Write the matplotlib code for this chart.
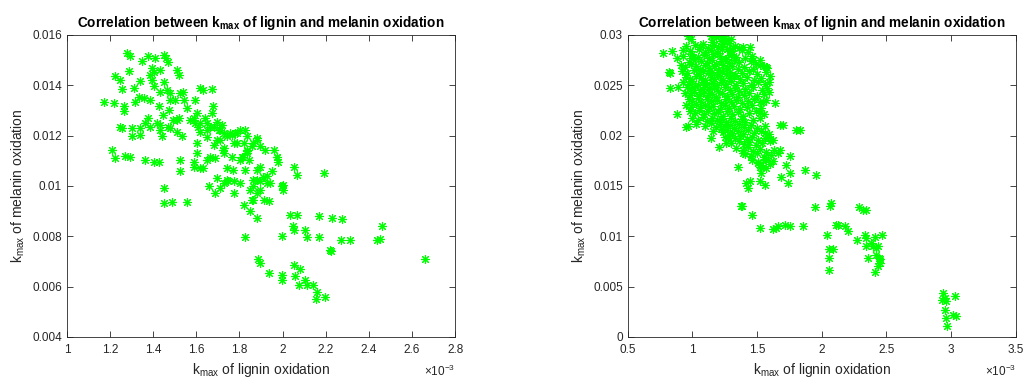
import matplotlib
matplotlib.use("Agg")
import matplotlib.pyplot as plt
import numpy as np
from matplotlib.ticker import FuncFormatter

plt.rcParams['font.family'] = ['Liberation Sans', 'DejaVu Sans']
plt.rcParams['mathtext.fontset'] = 'custom'
plt.rcParams['mathtext.rm'] = 'Liberation Sans'
plt.rcParams['mathtext.bf'] = 'Liberation Sans:bold'
plt.rcParams['mathtext.it'] = 'Liberation Sans:italic'

# left panel: (k_max lignin [x1e-3], k_max melanin)
left_pts = [
    (1.278, .01527), (1.294, .01517), (1.348, .01498), (1.374, .01517), (1.409, .01507),
    (1.448, .01521), (1.460, .01507), (1.467, .01494), (1.394, .01468), (1.402, .01451),
    (1.386, .01441), (1.433, .01461), (1.510, .01461), (1.518, .01441), (1.224, .01435),
    (1.247, .01421), (1.340, .01419), (1.286, .01455), (1.255, .01384), (1.309, .01388),
    (1.394, .01421), (1.402, .01398), (1.448, .01415), (1.464, .01382), (1.479, .01368),
    (1.433, .01375), (1.386, .01342), (1.355, .01349), (1.170, .01335), (1.216, .01329),
    (1.263, .01316), (1.263, .01296), (1.317, .01335), (1.332, .01355), (1.425, .01318),
    (1.471, .01302), (1.502, .01342), (1.538, .01375), (1.541, .01342), (1.556, .01309),
    (1.595, .01342), (1.618, .01388), (1.633, .01382), (1.672, .01384), (1.677, .01316),
    (1.672, .01289), (1.374, .01269), (1.363, .01249), (1.340, .01230), (1.340, .01203),
    (1.301, .01230), (1.301, .01197), (1.247, .01236), (1.255, .01232), (1.386, .01236),
    (1.433, .01243), (1.433, .01223), (1.479, .01230), (1.494, .01263), (1.518, .01269),
    (1.510, .01216), (1.533, .01197), (1.440, .01197), (1.603, .01289), (1.587, .01269),
    (1.595, .01249), (1.610, .01236), (1.641, .01269), (1.649, .01249), (1.618, .01216),
    (1.649, .01223), (1.680, .01236), (1.695, .01256), (1.703, .01223), (1.718, .01243),
    (1.726, .01210), (1.742, .01197), (1.765, .01203), (1.780, .01210), (1.803, .01223),
    (1.827, .01223), (1.834, .01197), (1.711, .01183), (1.680, .01163), (1.726, .01150),
    (1.773, .01170), (1.819, .01170), (1.881, .01183), (1.896, .01157), (1.858, .01157),
    (1.834, .01137), (1.811, .01117), (1.765, .01117), (1.726, .01130), (1.688, .01111),
    (1.664, .01117), (1.603, .01170), (1.603, .01130), (1.587, .01097), (1.587, .01077),
    (1.618, .01071), (1.649, .01104), (1.633, .01071), (1.742, .01071), (1.695, .01031),
    (1.749, .01018), (1.726, .01011), (1.773, .01018), (1.711, .00991), (1.688, .00972),
    (1.657, .00998), (1.773, .00972), (1.803, .01011), (1.827, .01064), (1.842, .01104),
    (1.881, .01064), (1.865, .01024), (1.865, .00998), (1.896, .01018), (1.927, .01038),
    (1.950, .01058), (1.927, .01011), (1.919, .01144), (1.958, .01144), (1.973, .01117),
    (1.981, .01097), (2.004, .01005), (1.997, .00998), (2.004, .00985), (1.896, .01077),
    (1.850, .00985), (1.881, .00972), (1.858, .00945), (1.912, .00945), (1.935, .00939),
    (1.819, .00925), (1.850, .00899), (1.881, .00872), (2.051, .01077), (2.069, .01044),
    (2.190, .01051), (1.209, .01144), (1.224, .01111), (1.270, .01120), (1.294, .01117),
    (1.363, .01104), (1.402, .01097), (1.425, .01097), (1.525, .01104), (1.525, .01058),
    (1.448, .00991), (1.451, .00932), (1.487, .00935), (1.556, .00935), (1.827, .00797),
    (1.888, .00710), (1.896, .00694), (1.935, .00654), (1.997, .00647), (1.997, .00628),
    (2.055, .00687), (2.082, .00670), (2.058, .00641), (2.074, .00608), (2.105, .00628),
    (2.112, .00608), (2.143, .00608), (2.159, .00577), (2.156, .00551), (2.197, .00557),
    (2.035, .00886), (2.069, .00886), (2.048, .00842), (2.051, .00826), (2.105, .00826),
    (2.112, .00797), (2.167, .00797), (2.171, .00882), (2.228, .00872), (2.275, .00868),
    (1.997, .00800), (2.221, .00747), (2.224, .00740), (2.272, .00786), (2.313, .00786),
    (2.437, .00786), (2.452, .00789), (2.460, .00842), (2.661, .00710),
    (1.478, .01342), (1.510, .01262), (1.445, .01282), (1.524, .01370), (1.617, .01250),
    (1.663, .01235), (1.710, .01223), (1.756, .01211), (1.696, .01183), (1.649, .01195),
    (1.789, .01171), (1.835, .01143), (1.816, .01115), (1.571, .01262), (1.417, .01250),
    (1.469, .01235), (1.724, .01143), (1.770, .01064), (1.881, .01024), (1.909, .01036),
    (1.895, .00984), (1.863, .00944), (1.942, .01012), (1.997, .01000), (1.742, .01024),
    (1.803, .01103), (1.835, .01131), (1.863, .01171), (1.881, .01191), (1.974, .01115),
    (1.710, .01223), (1.789, .01211),
]

# right panel, main cluster
right_core = [
    (0.99, .0296), (1.15, .0293), (1.18, .0298), (1.22, .0294), (1.25, .0297), (1.28, .0292), (1.30, .0296),
    (0.95, .0289), (1.08, .0291), (1.12, .0287), (1.17, .0290), (1.20, .0288), (1.24, .0291), (1.27, .0286),
    (1.33, .0289), (1.36, .0287),
    (0.98, .0284), (1.05, .0286), (1.10, .0283), (1.14, .0285), (1.19, .0282), (1.23, .0286), (1.29, .0284),
    (1.31, .0281), (1.38, .0285), (1.43, .0283),
    (0.93, .0279), (1.00, .0281), (1.04, .0278), (1.09, .0280), (1.13, .0277), (1.16, .0281), (1.21, .0279),
    (1.26, .0276), (1.30, .0280), (1.34, .0278), (1.41, .0277), (1.46, .0279),
    (0.97, .0273), (1.02, .0276), (1.07, .0274), (1.11, .0272), (1.15, .0275), (1.18, .0271), (1.22, .0274),
    (1.25, .0276), (1.28, .0272), (1.32, .0275), (1.36, .0273), (1.45, .0274), (1.49, .0271), (1.52, .0275),
    (0.94, .0268), (0.99, .0271), (1.03, .0269), (1.06, .0266), (1.10, .0270), (1.13, .0267), (1.17, .0269),
    (1.20, .0265), (1.24, .0270), (1.27, .0267), (1.31, .0269), (1.35, .0266), (1.40, .0268), (1.47, .0266),
    (1.55, .0269), (1.58, .0267),
    (0.92, .0264), (0.96, .0262), (1.01, .0265), (1.05, .0261), (1.08, .0264), (1.12, .0262), (1.15, .0263),
    (1.19, .0260), (1.23, .0264), (1.26, .0261), (1.29, .0263), (1.33, .0260), (1.38, .0262), (1.44, .0264),
    (1.50, .0261), (1.57, .0263),
    (0.95, .0258), (0.98, .0256), (1.03, .0259), (1.07, .0257), (1.10, .0255), (1.14, .0258), (1.17, .0256),
    (1.21, .0259), (1.24, .0255), (1.28, .0257), (1.32, .0259), (1.37, .0256), (1.42, .0258), (1.48, .0255),
    (1.53, .0257), (1.60, .0259),
    (0.93, .0253), (0.97, .0251), (1.00, .0254), (1.04, .0250), (1.08, .0253), (1.11, .0251), (1.16, .0252),
    (1.19, .0250), (1.22, .0253), (1.26, .0251), (1.30, .0254), (1.34, .0250), (1.39, .0252), (1.45, .0250),
    (1.51, .0253), (1.56, .0251),
    (0.96, .0248), (0.99, .0246), (1.02, .0249), (1.06, .0245), (1.09, .0248), (1.13, .0246), (1.17, .0247),
    (1.20, .0244), (1.25, .0248), (1.29, .0245), (1.33, .0247), (1.36, .0244), (1.41, .0246), (1.47, .0248),
    (1.54, .0245), (1.58, .0247),
    (0.94, .0242), (0.98, .0240), (1.01, .0243), (1.05, .0239), (1.08, .0242), (1.12, .0240), (1.15, .0241),
    (1.18, .0238), (1.23, .0242), (1.27, .0239), (1.31, .0241), (1.35, .0238), (1.40, .0240), (1.44, .0242),
    (1.50, .0239), (1.55, .0241),
    (0.97, .0236), (1.00, .0234), (1.04, .0237), (1.07, .0233), (1.11, .0236), (1.14, .0234), (1.19, .0235),
    (1.22, .0232), (1.26, .0236), (1.30, .0233), (1.34, .0235), (1.38, .0232), (1.43, .0234), (1.48, .0236),
    (1.52, .0233), (1.57, .0235),
    (0.95, .0230), (0.99, .0228), (1.03, .0231), (1.06, .0227), (1.10, .0230), (1.13, .0228), (1.16, .0229),
    (1.21, .0226), (1.25, .0230), (1.28, .0227), (1.32, .0229), (1.37, .0226), (1.42, .0228), (1.46, .0230),
    (1.53, .0227),
    (0.98, .0224), (1.02, .0222), (1.05, .0225), (1.09, .0221), (1.12, .0224), (1.17, .0222), (1.20, .0223),
    (1.24, .0220), (1.27, .0224), (1.31, .0221), (1.35, .0223), (1.39, .0220), (1.44, .0222), (1.49, .0224),
    (1.55, .0221),
    (1.00, .0218), (1.04, .0216), (1.08, .0219), (1.11, .0215), (1.15, .0218), (1.19, .0216), (1.22, .0217),
    (1.26, .0214), (1.30, .0218), (1.33, .0215), (1.38, .0217), (1.41, .0214), (1.47, .0216), (1.52, .0218),
    (1.03, .0212), (1.10, .0210), (1.14, .0213), (1.18, .0209), (1.21, .0212), (1.25, .0210), (1.29, .0211),
    (1.32, .0208), (1.36, .0212), (1.40, .0209), (1.45, .0211), (1.50, .0208), (1.56, .0210),
    (1.16, .0205), (1.22, .0207), (1.24, .0204), (1.27, .0206), (1.31, .0203), (1.35, .0205), (1.39, .0202),
    (1.43, .0206), (1.48, .0203), (1.53, .0205), (1.59, .0202),
    (1.25, .0199), (1.29, .0201), (1.33, .0198), (1.37, .0200), (1.42, .0197), (1.46, .0199), (1.51, .0196),
    (1.56, .0198),
    (1.30, .0193), (1.36, .0195), (1.40, .0192), (1.44, .0194), (1.49, .0191), (1.54, .0193), (1.60, .0195),
    (1.34, .0188), (1.39, .0186), (1.43, .0189), (1.47, .0185), (1.52, .0187), (1.57, .0184), (1.63, .0186),
    (1.41, .0182), (1.45, .0180), (1.50, .0183), (1.55, .0179), (1.61, .0181),
    (1.46, .0176), (1.51, .0174), (1.56, .0177), (1.62, .0175),
    (1.52, .0171), (1.57, .0168), (1.60, .0172),
]

# right panel, scattered points
right_sparse = [
    (0.776, .02825), (0.843, .02845), (0.879, .02768), (0.822, .02636), (0.828, .02626),
    (0.828, .02471), (0.887, .02481), (0.879, .02213), (0.951, .02090), (0.969, .02097),
    (0.964, .0299), (0.931, .02851), (0.913, .02702), (0.990, .02768), (1.024, .02901),
    (1.055, .02884), (1.145, .0299), (1.227, .0299), (1.261, .02950), (1.313, .02868),
    (1.390, .02884), (1.447, .02878), (1.467, .02752), (1.519, .02702), (1.571, .02686),
    (1.591, .02537), (1.591, .02438), (1.635, .02322), (1.545, .02338), (1.519, .02223),
    (1.558, .02024), (1.583, .01991), (1.622, .01958), (1.674, .01859), (1.661, .01826),
    (1.751, .01793), (1.725, .01710), (1.687, .01594), (1.738, .01528), (1.751, .01627),
    (1.674, .02107), (1.699, .02107), (1.803, .02057), (1.828, .02057), (1.867, .01660),
    (1.957, .01611), (1.145, .01975), (1.209, .01892), (1.261, .01925), (1.274, .01975),
    (1.351, .01693), (1.390, .01826), (1.454, .01793), (1.416, .01528), (1.442, .01545),
    (1.429, .01478), (1.519, .01545), (1.532, .01627), (1.558, .01512), (1.519, .01693),
    (1.545, .01693), (1.571, .01760), (1.506, .01727), (1.385, .01297), (1.377, .01303),
    (1.462, .01214), (1.519, .01082), (1.622, .01072), (1.648, .01082), (1.661, .01098),
    (1.712, .01115), (1.756, .01098), (1.854, .01098), (1.945, .01290), (2.061, .01297),
    (2.074, .01330), (2.040, .01015), (2.055, .00873), (2.086, .00873), (2.055, .00784),
    (2.055, .00662), (2.112, .01115), (2.125, .01115), (2.177, .01098), (2.202, .01055),
    (2.275, .00959), (2.288, .01290), (2.319, .01264), (2.339, .01257), (2.331, .01015),
    (2.339, .00982), (2.344, .00900), (2.357, .00784), (2.383, .00933), (2.396, .00900),
    (2.409, .00992), (2.417, .00883), (2.435, .00900), (2.422, .00817), (2.442, .00784),
    (2.448, .00734), (2.453, .00774), (2.435, .00701), (2.409, .00642), (2.468, .01015),
    (2.938, .00437), (2.951, .00387), (2.932, .00370), (2.963, .00354), (2.951, .00271),
    (2.963, .00189), (2.969, .00106), (3.028, .00404), (3.015, .00222), (3.036, .00205),
]

left_xticks = [1, 1.2, 1.4, 1.6, 1.8, 2, 2.2, 2.4, 2.6, 2.8]
left_yticks = [0.004, 0.006, 0.008, 0.01, 0.012, 0.014, 0.016]
right_xticks = [0.5, 1, 1.5, 2, 2.5, 3, 3.5]
right_yticks = [0, 0.005, 0.01, 0.015, 0.02, 0.025, 0.03]

title = r'Correlation between $\mathbf{k_{max}}$ of lignin and melanin oxidation'
xlab = r'k$_{\rm max}$ of lignin oxidation'
ylab = r'k$_{\rm max}$ of melanin oxidation'
axcol = '#262626'

fig = plt.figure(figsize=(10.24, 3.78), dpi=100)


def setup(ax, pts, xt, yt):
    pts = np.array(pts)
    ax.plot(pts[:, 0] * 1e-3, pts[:, 1], linestyle='none', marker=(8, 2, 0),
            color='#00ff00', markersize=6.5, markeredgewidth=0.8)
    ax.set_xlim(xt[0] * 1e-3, xt[-1] * 1e-3)
    ax.set_ylim(yt[0], yt[-1])
    ax.set_xticks([v * 1e-3 for v in xt])
    ax.set_yticks(yt)
    ax.xaxis.set_major_formatter(FuncFormatter(lambda v, p: '%g' % round(v * 1e3, 4)))
    ax.yaxis.set_major_formatter(FuncFormatter(lambda v, p: '%g' % round(v, 5)))
    ax.tick_params(direction='in', top=True, right=True, length=4, width=0.6,
                   colors=axcol, labelsize=8.5, labelcolor=axcol)
    ax.tick_params(axis='x', pad=5)
    for s in ax.spines.values():
        s.set_color(axcol)
        s.set_linewidth(0.6)
    ax.set_title(title, fontsize=9.8, fontweight='bold', color='black', pad=6)
    ax.set_xlabel(xlab, fontsize=10, color=axcol, labelpad=4)
    ax.set_ylabel(ylab, fontsize=10, color=axcol, labelpad=4)
    ax.text(1.0, -0.09, r'$\times$10$^{-3}$', transform=ax.transAxes,
            ha='right', va='top', fontsize=8.5, color=axcol)


ax1 = fig.add_axes([0.0654, 0.1085, 0.379, 0.799])
setup(ax1, left_pts, left_xticks, left_yticks)

ax2 = fig.add_axes([0.613, 0.1085, 0.379, 0.799])
setup(ax2, right_core + right_sparse, right_xticks, right_yticks)

fig.savefig('out.png', dpi=100)
